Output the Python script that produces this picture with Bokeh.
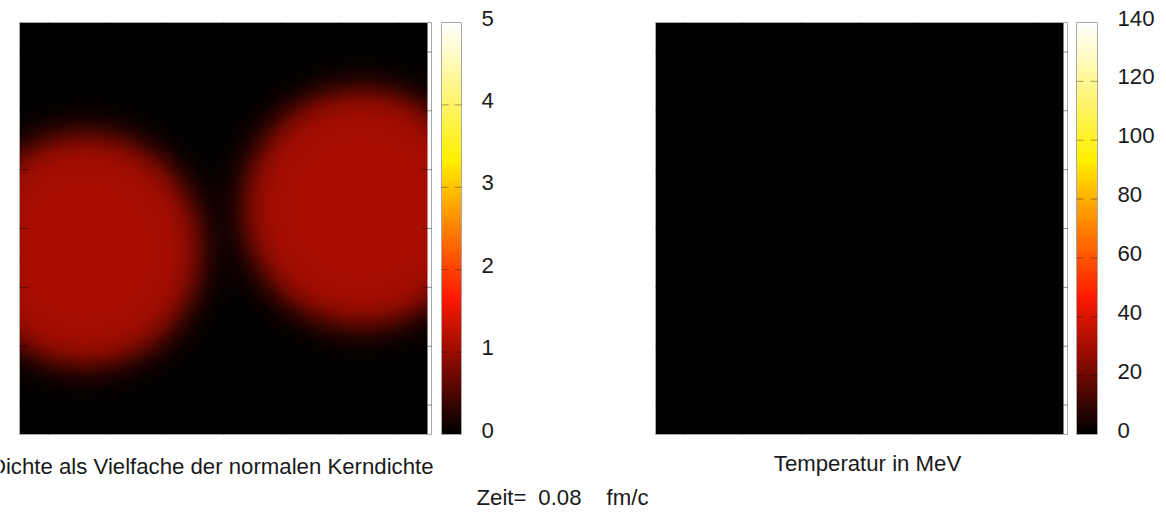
import numpy as np
from bokeh.plotting import figure
from bokeh.models import LinearColorMapper, Range1d
from bokeh.core.properties import value
from bokeh.embed import file_html
from bokeh.resources import INLINE

# ---------------- values ----------------
extent = [-14.0, 14.0]                      # fm, both axes of both panels
grid_ticks = [-12, -8, -4, 0, 4, 8, 12]     # inner tick marks of the panels

nucleus_x = [-9.5, 9.5]                     # centres of the two nuclei
nucleus_y = [-1.45, 1.4]
nucleus_radius = [7.9, 8.05]                # half-density radius
nucleus_density = [1.08, 1.08]              # in units of normal nuclear density
surface_diffuseness = [0.65, 0.65]

temperature_level = [0.0]                   # whole temperature panel is black

density_range = [0, 5]
density_ticks = [0, 1, 2, 3, 4, 5]
density_inner_ticks = [1, 2, 3, 4]
temperature_range = [0, 140]
temperature_ticks = [0, 20, 40, 60, 80, 100, 120, 140]
temperature_inner_ticks = [20, 40, 60, 80, 100, 120]

density_title = "Dichte als Vielfache der normalen Kerndichte"
temperature_title = "Temperatur in MeV"
time_label = "Zeit="
time_value = "0.08"
time_unit = "fm/c"

# colour map (black - red - yellow - white)
cmap_stops = [0.0, 0.2, 0.333, 0.5, 0.667, 0.8, 1.0]
cmap_colors = ["#000000", "#9c0c00", "#ff1a00", "#ff8000", "#fff000", "#fff466", "#ffffff"]

# ---------------- styling / layout (pixels) ----------------
W, H = 1166, 512
FONT = "Liberation Sans"
FS = "22.2px"
TXT = "#1a1a1a"
OUTLINE = "#a8a8a8"
TOP, BOTTOM = 22, 434                 # frame top / bottom of panels and colour bars
PANEL_LEFT = [19, 655]                # left edge of the two panels
IMG_W, FRAME_W = 408, 412             # image width, frame width of a panel
CB_LEFT = [441, 1076]                 # colour bar left edges
CB_W = [20, 21]
TICK_PX = 9
LABEL_GAP = 20
LABEL_SHIFT = -4.5


def hex2rgb(h):
    return np.array([int(h[i:i + 2], 16) for i in (1, 3, 5)], dtype=float)


def build_palette(n=256):
    cols = np.array([hex2rgb(c) for c in cmap_colors])
    t = np.linspace(0, 1, n)
    out = []
    for v in t:
        rgb = [np.interp(v, cmap_stops, cols[:, k]) for k in range(3)]
        out.append("#%02x%02x%02x" % tuple(int(round(c)) for c in rgb))
    return out


PALETTE = build_palette()

span = extent[1] - extent[0]
dxp = IMG_W / span                       # px per fm (x)
dyp = (BOTTOM - TOP) / span              # px per fm (y)
x_end = extent[1] + (FRAME_W - IMG_W) / dxp

# density field from the nucleus parameters
N = 420
xs = np.linspace(extent[0], extent[1], N)
ys = np.linspace(extent[0], extent[1], N)
X, Y = np.meshgrid(xs, ys)
rho = np.zeros_like(X)
for cx, cy, R, d, a in zip(nucleus_x, nucleus_y, nucleus_radius, nucleus_density, surface_diffuseness):
    r = np.hypot(X - cx, Y - cy)
    rho += d / (1.0 + np.exp((r - R) / a))
temp = np.full_like(X, temperature_level[0])

# ---------------- one figure covering the whole window ----------------
p = figure(width=W, height=H, x_range=Range1d(0, W), y_range=Range1d(0, H),
           min_border=0, title=None, x_axis_location=None, y_axis_location=None,
           toolbar_location=None, output_backend="svg", outline_line_color=None,
           background_fill_color="white", border_fill_color="white")
p.grid.visible = False


def x_range_for(left_px, v0, px_per_unit):
    start = v0 - left_px / px_per_unit
    return Range1d(start, start + W / px_per_unit)


def y_range_for(v_top, px_per_unit):
    end = v_top + TOP / px_per_unit
    return Range1d(end - H / px_per_unit, end)


p.extra_x_ranges = {
    "pa": x_range_for(PANEL_LEFT[0], extent[0], dxp),
    "pb": x_range_for(PANEL_LEFT[1], extent[0], dxp),
    "ca": x_range_for(CB_LEFT[0], 0.0, CB_W[0]),
    "cb": x_range_for(CB_LEFT[1], 0.0, CB_W[1]),
}
dens_u = (BOTTOM - TOP) / (density_range[1] - density_range[0])
temp_u = (BOTTOM - TOP) / (temperature_range[1] - temperature_range[0])
p.extra_y_ranges = {
    "py": y_range_for(extent[1], dyp),
    "dy": y_range_for(density_range[1], dens_u),
    "ty": y_range_for(temperature_range[1], temp_u),
}


def draw_panel(xr, field, vr):
    mapper = LinearColorMapper(palette=PALETTE, low=vr[0], high=vr[1])
    p.image(image=[field], x=extent[0], y=extent[0], dw=span, dh=span,
            color_mapper=mapper, x_range_name=xr, y_range_name="py")
    p.quad(left=[extent[0]], right=[x_end], bottom=[extent[0]], top=[extent[1]],
           fill_color=None, line_color=OUTLINE, line_width=1,
           x_range_name=xr, y_range_name="py")
    tl_x = TICK_PX / dxp
    tl_y = TICK_PX / dyp
    n = len(grid_ticks)
    kw = dict(line_color="black", line_alpha=0.45, line_width=1, x_range_name=xr, y_range_name="py")
    p.segment(x0=[extent[0]] * n, x1=[extent[0] + tl_x] * n, y0=grid_ticks, y1=grid_ticks, **kw)
    p.segment(x0=[x_end] * n, x1=[x_end - tl_x] * n, y0=grid_ticks, y1=grid_ticks, **kw)
    p.segment(x0=grid_ticks, x1=grid_ticks, y0=[extent[1]] * n, y1=[extent[1] - tl_y] * n, **kw)
    p.segment(x0=grid_ticks, x1=grid_ticks, y0=[extent[0]] * n, y1=[extent[0] + tl_y] * n, **kw)


def draw_colorbar(xr, yr, vr, ticks, inner, bar_w):
    low, high = vr
    mapper = LinearColorMapper(palette=PALETTE, low=low, high=high)
    grad = np.linspace(low, high, 400).reshape(400, 1)
    p.image(image=[grad], x=0, y=low, dw=1, dh=high - low, color_mapper=mapper,
            x_range_name=xr, y_range_name=yr)
    p.quad(left=[0], right=[1], bottom=[low], top=[high], fill_color=None,
           line_color=OUTLINE, line_width=1, x_range_name=xr, y_range_name=yr)
    m = len(inner)
    f = 7.0 / bar_w
    kw = dict(line_color="black", line_alpha=0.35, line_width=1, x_range_name=xr, y_range_name=yr)
    p.segment(x0=[0] * m, x1=[f] * m, y0=inner, y1=inner, **kw)
    p.segment(x0=[1 - f] * m, x1=[1] * m, y0=inner, y1=inner, **kw)
    p.text(x=[1] * len(ticks), y=ticks, text=[str(t) for t in ticks],
           x_offset=LABEL_GAP, y_offset=LABEL_SHIFT,
           text_font=value(FONT), text_font_size=value(FS), text_color=TXT,
           text_align="left", text_baseline="middle",
           x_range_name=xr, y_range_name=yr)


draw_panel("pa", rho, density_range)
draw_panel("pb", temp, temperature_range)
draw_colorbar("ca", "dy", density_range, density_ticks, density_inner_ticks, CB_W[0])
draw_colorbar("cb", "ty", temperature_range, temperature_ticks, temperature_inner_ticks, CB_W[1])

# ---------------- captions (positions in window pixels, y from bottom) ----------------
txt_kw = dict(text_font=value(FONT), text_font_size=value(FS), text_color=TXT,
              text_baseline="middle")
p.text(x=[433], y=[H - 466], text=[density_title], text_align="right", **txt_kw)
p.text(x=[867], y=[H - 463], text=[temperature_title], text_align="center", **txt_kw)
p.text(x=[476], y=[H - 497], text=[time_label], text_align="left", **txt_kw)
p.text(x=[581], y=[H - 497], text=[time_value], text_align="right", **txt_kw)
p.text(x=[648], y=[H - 497], text=[time_unit], text_align="right", **txt_kw)

open("out.html", "w").write(file_html(p, INLINE))
